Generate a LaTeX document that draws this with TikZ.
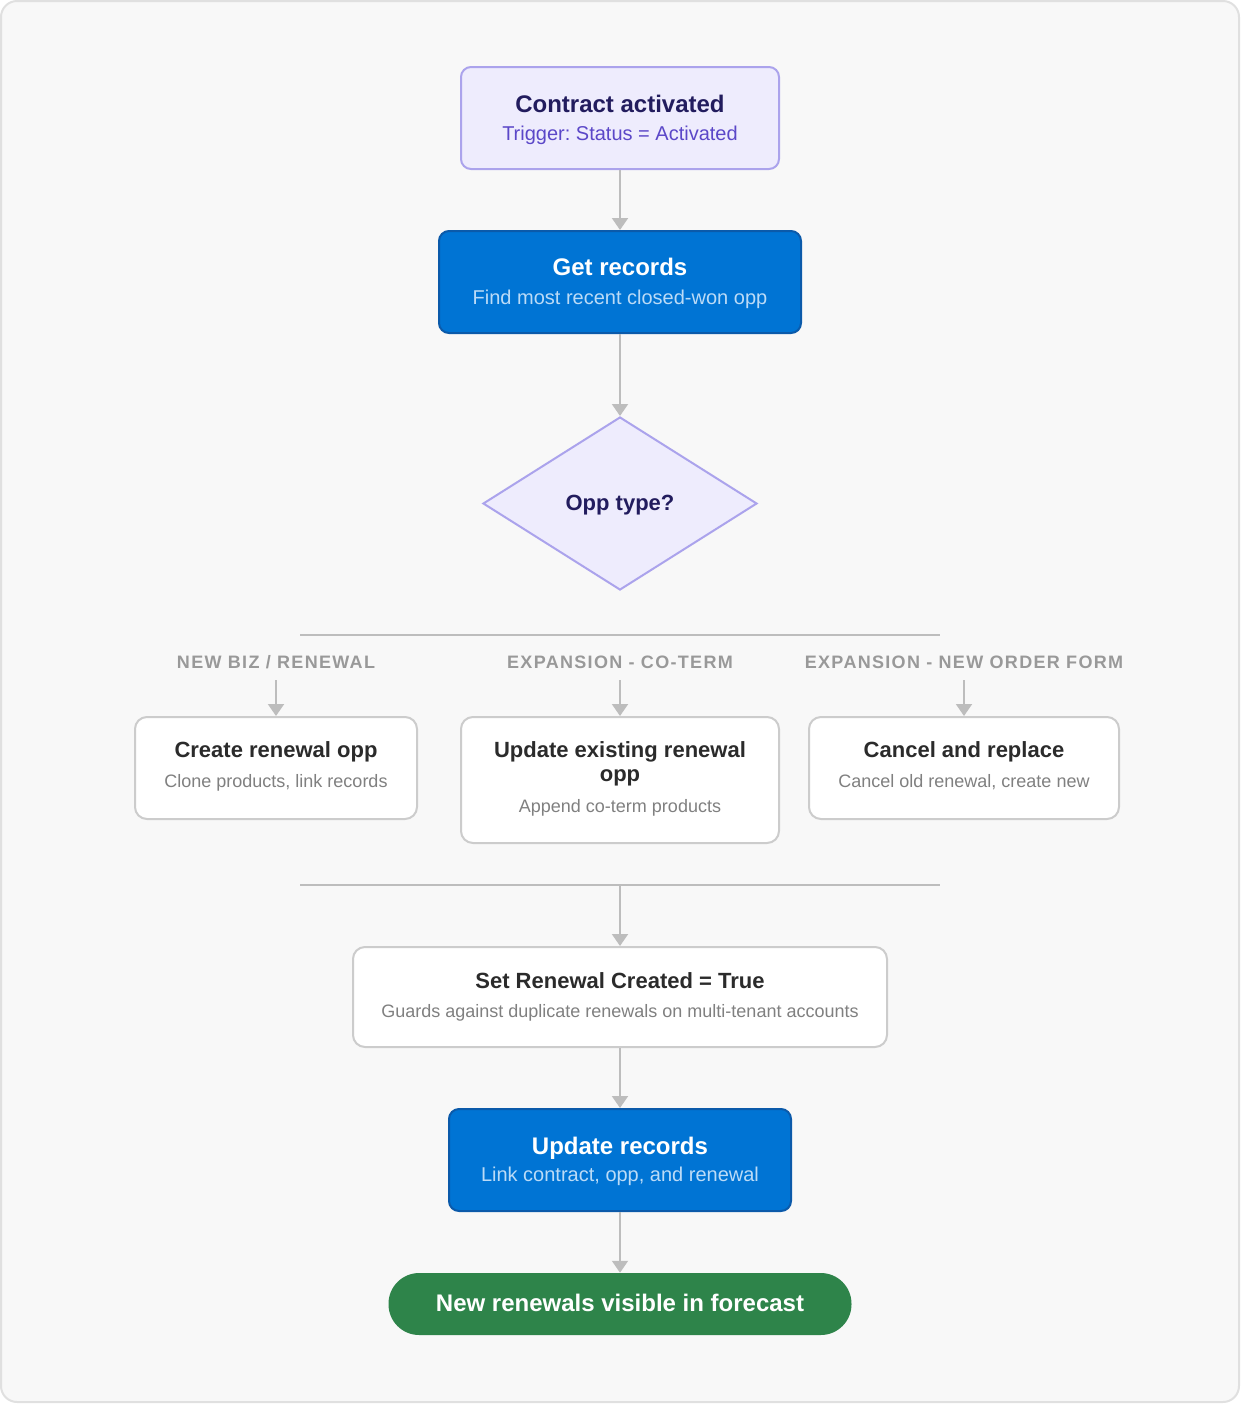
\documentclass[tikz,border=0pt]{standalone}
\usepackage{fontspec}
\setmainfont{Liberation Sans}
\newfontfamily\labfont[LetterSpace=7.3]{Liberation Sans}
\usetikzlibrary{shapes.geometric,arrows.meta,calc}
\frenchspacing
\definecolor{bgc}{HTML}{F8F8F8}
\definecolor{framec}{HTML}{E0E0E0}
\definecolor{lavfill}{HTML}{EEECFD}
\definecolor{lavdraw}{HTML}{ABA3EC}
\definecolor{navyc}{HTML}{221C5E}
\definecolor{purpc}{HTML}{5B47C8}
\definecolor{cblue}{HTML}{0074D4}
\definecolor{bluedraw}{HTML}{0B5AAA}
\definecolor{bluesub}{HTML}{BBDBF7}
\definecolor{connc}{HTML}{BDBDBD}
\definecolor{lblc}{HTML}{999999}
\definecolor{boxdraw}{HTML}{CCCCCC}
\definecolor{darkc}{HTML}{2B2B2B}
\definecolor{subc}{HTML}{808080}
\definecolor{cgreen}{HTML}{2E844A}
\tikzset{
  txt/.style={inner sep=0pt, anchor=base},
  ttlL/.style={txt, font=\fontsize{18}{21}\selectfont\bfseries},
  ttlM/.style={txt, font=\fontsize{16.5}{19}\selectfont\bfseries},
  subL/.style={txt, font=\fontsize{15}{18}\selectfont},
  subM/.style={txt, font=\fontsize{13.5}{16}\selectfont},
  lab/.style={txt, font=\labfont\fontsize{13.5}{16}\selectfont\bfseries, text=lblc},
  lavbox/.style={draw=lavdraw, fill=lavfill, line width=1.5pt, rounded corners=7.5pt, inner sep=0pt},
  bluebox/.style={draw=bluedraw, fill=cblue, line width=1.5pt, rounded corners=7.5pt, inner sep=0pt},
  whitebox/.style={draw=boxdraw, fill=white, line width=1.5pt, rounded corners=9pt, inner sep=0pt},
  decision/.style={diamond, draw=lavdraw, fill=lavfill, line width=1.5pt, inner sep=0pt,
    text depth=1.5pt, font=\fontsize{16.5}{19}\selectfont\bfseries, text=navyc},
  pill/.style={fill=cgreen, rounded corners=23pt, inner sep=0pt},
  conn/.style={draw=connc, line width=1.5pt, -{Triangle[width=12pt,length=9pt]}},
  sepline/.style={draw=connc, line width=1.5pt},
}
\begin{document}
\begin{tikzpicture}[x=0.75pt,y=-0.75pt]
\useasboundingbox (0,0) rectangle (1240,1404);
\draw[fill=bgc, draw=framec, line width=1.5pt, rounded corners=12pt] (1,1) rectangle (1239,1402);

% Contract activated
\node[lavbox, minimum width=238.5pt, minimum height=76.5pt] (c1) at (620,118) {};
\node[ttlL, text=navyc] (c1t) at (620,112.3) {Contract activated};
\node[subL, text=purpc] (c1s) at (620,140) {Trigger: Status = Activated};

% Get records
\node[bluebox, minimum width=271.5pt, minimum height=76.5pt] (gr) at (620,282) {};
\node[ttlL, text=white] (grt) at (620,275.7) {Get records};
\node[subL, text=bluesub] (grs) at (620,304) {Find most recent closed-won opp};

% Decision
\node[decision, minimum width=205.5pt, minimum height=129.75pt] (dia) at (620,503.5) {Opp type?};

% separator 1
\coordinate (s1l) at (300,635);
\coordinate (s1r) at (940,635);
\draw[sepline] (s1l) -- (s1r);

% labels
\node[lab] (l1) at (276,668.3) {NEW BIZ / RENEWAL};
\node[lab] (l2) at (620,668.3) {EXPANSION - CO-TERM};
\node[lab] (l3) at (964,668.3) {EXPANSION - NEW ORDER FORM};
\coordinate (l1a) at (276,680);
\coordinate (l2a) at (620,680);
\coordinate (l3a) at (964,680);

% branch boxes
\node[whitebox, minimum width=211.5pt, minimum height=76.5pt] (b1) at (276,768) {};
\node[ttlM, text=darkc] (b1t) at (276,757.7) {Create renewal opp};
\node[subM, text=subc] (b1s) at (276,787.7) {Clone products, link records};

\node[whitebox, minimum width=238.5pt, minimum height=94.5pt] (b2) at (620,780) {};
\node[ttlM, text=darkc] (b2t) at (620,757.7) {Update existing renewal};
\node[ttlM, text=darkc] (b2u) at (620,781.7) {opp};
\node[subM, text=subc] (b2s) at (620,812) {Append co-term products};

\node[whitebox, minimum width=232.5pt, minimum height=76.5pt] (b3) at (964,768) {};
\node[ttlM, text=darkc] (b3t) at (964,757.7) {Cancel and replace};
\node[subM, text=subc] (b3s) at (964,787.7) {Cancel old renewal, create new};

% separator 2
\coordinate (s2l) at (300,885);
\coordinate (s2r) at (940,885);
\coordinate (s2m) at (620,885);
\draw[sepline] (s2l) -- (s2r);

% Set renewal created
\node[whitebox, minimum width=400.5pt, minimum height=75pt] (sr) at (620,997) {};
\node[ttlM, text=darkc] (srt) at (620,988.3) {Set Renewal Created = True};
\node[subM, text=subc] (srs) at (620,1017.7) {Guards against duplicate renewals on multi-tenant accounts};

% Update records
\node[bluebox, minimum width=256.5pt, minimum height=76.5pt] (ur) at (620,1160) {};
\node[ttlL, text=white] (urt) at (620,1154) {Update records};
\node[subL, text=bluesub] (urs) at (620,1181.7) {Link contract, opp, and renewal};

% End
\node[pill, minimum width=347.25pt, minimum height=46.5pt] (fin) at (620,1304) {};
\node[ttlL, text=white] (fint) at (620,1311.7) {New renewals visible in forecast};

% connectors
\draw[conn] (c1) -- (gr);
\draw[conn] (gr) -- (dia);
\draw[conn] (l1a) -- (b1);
\draw[conn] (l2a) -- (b2);
\draw[conn] (l3a) -- (b3);
\draw[conn] (s2m) -- (sr);
\draw[conn] (sr) -- (ur);
\draw[conn] (ur) -- (fin);
\end{tikzpicture}
\end{document}
